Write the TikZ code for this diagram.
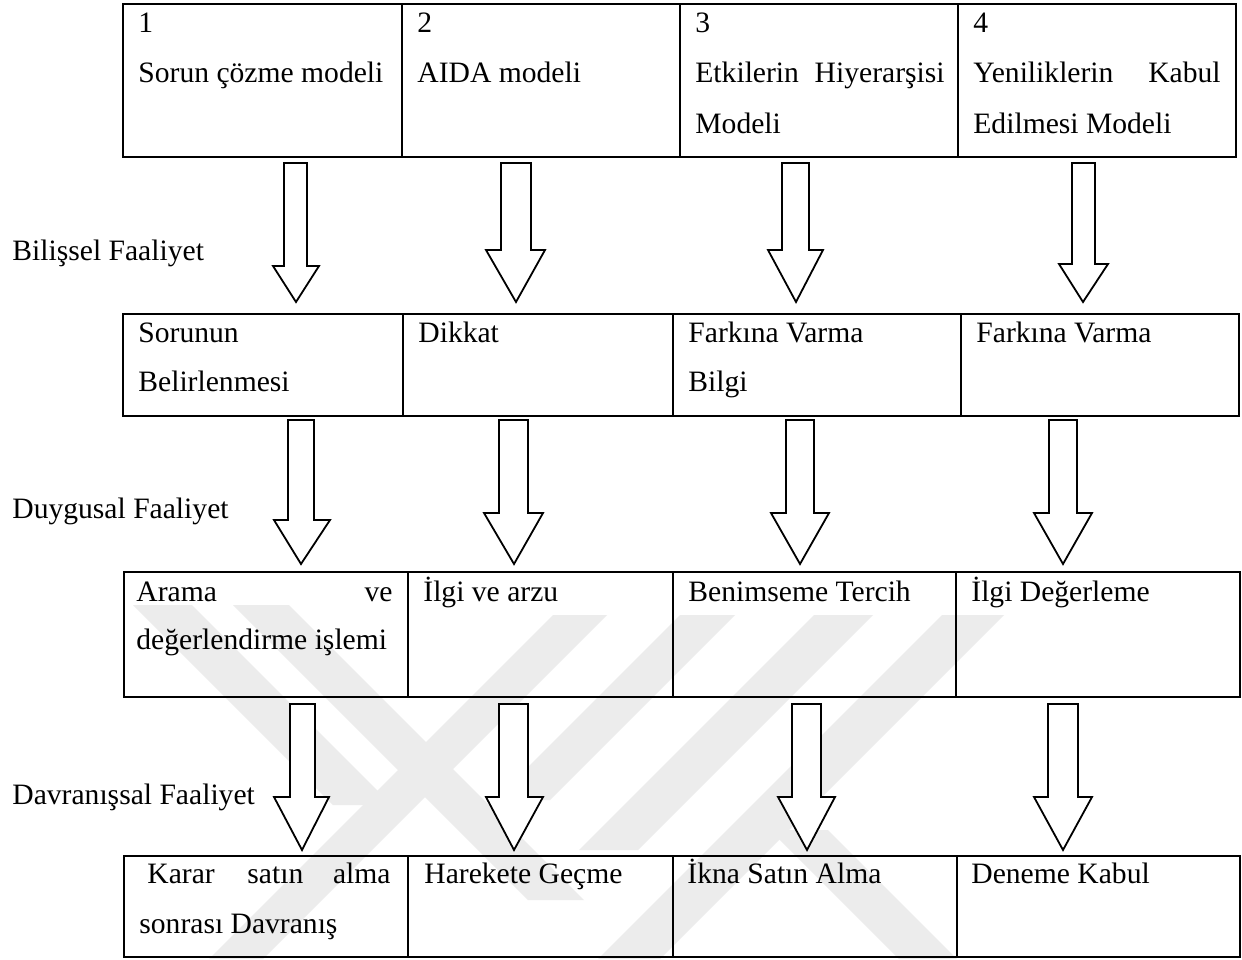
\documentclass[tikz,border=0pt]{standalone}
\usepackage{fontspec}
\setmainfont{Liberation Serif}
\usetikzlibrary{fit}
\definecolor{wmgray}{RGB}{236,236,236}
\newcommand{\blockarr}[8]{%
  \draw[barrow] (#1,#6) -- (#2,#6) -- (#2,#7) -- (#4,#7) -- (#5,#8) -- (#3,#7) -- (#1,#7) -- cycle;}
\begin{document}
\begin{tikzpicture}[x=0.5pt,y=-0.5pt,
  cell/.style={draw=black, line width=1.25pt, inner sep=0pt, rectangle},
  txt/.style={inner sep=0pt, anchor=base west, font=\fontsize{14.8}{17}\selectfont},
  txtr/.style={txt, anchor=base east},
  wm/.style={fill=wmgray},
  barrow/.style={draw=black, fill=white, line width=0.9pt, line join=miter}]
\useasboundingbox (0,0) rectangle (1242,959);
\fill[white] (0,0) rectangle (1242,959);

% ---- faint background watermark (diagonal bands)
\begin{scope}
\clip (0,0) rectangle (1242,959);
\fill[wm] (133,605) -- (192,605) -- (392,805) -- (333,805) -- cycle;
\fill[wm] (233,605) -- (289,605) -- (584,900) -- (528,900) -- cycle;
\fill[wm] (553,615) -- (607,615) -- (263,959) -- (209,959) -- cycle;
\fill[wm] (680,615) -- (735,615) -- (550,800) -- (495,800) -- cycle;
\fill[wm] (814,615) -- (873,615) -- (638,850) -- (579,850) -- cycle;
\fill[wm] (942,615) -- (1004,615) -- (660,959) -- (598,959) -- cycle;
\fill[wm] (770,830) -- (828,830) -- (957,959) -- (899,959) -- cycle;
\end{scope}

% ---- row 1
\node[cell, fit={(123,4) (402,157)}] (r1c1) {};
\node[cell, fit={(402,4) (680,157)}] (r1c2) {};
\node[cell, fit={(680,4) (958,157)}] (r1c3) {};
\node[cell, fit={(958,4) (1236,157)}] (r1c4) {};
% ---- row 2
\node[cell, fit={(123,314) (403,416)}] (r2c1) {};
\node[cell, fit={(403,314) (673,416)}] (r2c2) {};
\node[cell, fit={(673,314) (961,416)}] (r2c3) {};
\node[cell, fit={(961,314) (1239,416)}] (r2c4) {};
% ---- row 3
\node[cell, fit={(124,572) (408,697)}] (r3c1) {};
\node[cell, fit={(408,572) (673,697)}] (r3c2) {};
\node[cell, fit={(673,572) (956,697)}] (r3c3) {};
\node[cell, fit={(956,572) (1240,697)}] (r3c4) {};
% ---- row 4
\node[cell, fit={(124,856) (408,957)}] (r4c1) {};
\node[cell, fit={(408,856) (673,957)}] (r4c2) {};
\node[cell, fit={(673,856) (957,957)}] (r4c3) {};
\node[cell, fit={(957,856) (1240,957)}] (r4c4) {};

% ---- arrows row A
\blockarr{284}{307}{273}{319}{296}{163}{266}{302}
\blockarr{501}{531}{486}{545}{516}{163}{250}{302}
\blockarr{782}{809}{768}{823}{796}{163}{250}{302}
\blockarr{1072}{1095}{1059}{1108}{1083}{163}{264}{302}
% ---- arrows row B
\blockarr{288}{314}{274}{330}{301}{420}{520}{564}
\blockarr{499}{528}{484}{543}{514}{420}{513}{564}
\blockarr{786}{814}{771}{829}{800}{420}{513}{564}
\blockarr{1049}{1077}{1034}{1092}{1063}{420}{513}{564}
% ---- arrows row C
\blockarr{290}{315}{274}{329}{302}{704}{797}{850}
\blockarr{499}{528}{486}{543}{514}{704}{797}{850}
\blockarr{792}{821}{778}{835}{807}{704}{797}{850}
\blockarr{1048}{1078}{1034}{1092}{1063}{704}{797}{850}

% ---- side labels
\node[txt] (l1) at (12,260) {Bilişsel Faaliyet};
\node[txt] (l2) at (12,518) {Duygusal Faaliyet};
\node[txt] (l3) at (12,804) {Davranışsal Faaliyet};

% ---- row 1 texts
\node[txt] (t11a) at (138,32) {1};
\node[txt] (t11b) at (138,82) {Sorun çözme modeli};
\node[txt] (t12a) at (417,32) {2};
\node[txt] (t12b) at (417,82) {AIDA modeli};
\node[txt] (t13a) at (695,32) {3};
\node[txt] (t13b) at (695,82) {Etkilerin};
\node[txtr] (t13c) at (945,82) {Hiyerarşisi};
\node[txt] (t13d) at (695,133) {Modeli};
\node[txt] (t14a) at (973,32) {4};
\node[txt] (t14b) at (973,82) {Yeniliklerin};
\node[txtr] (t14c) at (1221,82) {Kabul};
\node[txt] (t14d) at (973,133) {Edilmesi Modeli};

% ---- row 2 texts
\node[txt] (t21a) at (138,342) {Sorunun};
\node[txt] (t21b) at (138,391) {Belirlenmesi};
\node[txt] (t22a) at (418,342) {Dikkat};
\node[txt] (t23a) at (688,342) {Farkına Varma};
\node[txt] (t23b) at (688,391) {Bilgi};
\node[txt] (t24a) at (976,342) {Farkına Varma};

% ---- row 3 texts
\node[txt] (t31a) at (136,601) {Arama};
\node[txtr] (t31b) at (393,601) {ve};
\node[txt] (t31c) at (136,649) {değerlendirme işlemi};
\node[txt] (t32a) at (423,601) {İlgi ve arzu};
\node[txt] (t33a) at (688,601) {Benimseme Tercih};
\node[txt] (t34a) at (971,601) {İlgi Değerleme};

% ---- row 4 texts
\node[txt] (t41a) at (147,883) {Karar};
\node[txt] (t41b) at (247,883) {satın};
\node[txtr] (t41c) at (391,883) {alma};
\node[txt] (t41d) at (139,933) {sonrası Davranış};
\node[txt] (t42a) at (424,883) {Harekete Geçme};
\node[txt] (t43a) at (687,883) {İkna Satın Alma};
\node[txt] (t44a) at (971,883) {Deneme Kabul};
\end{tikzpicture}
\end{document}
